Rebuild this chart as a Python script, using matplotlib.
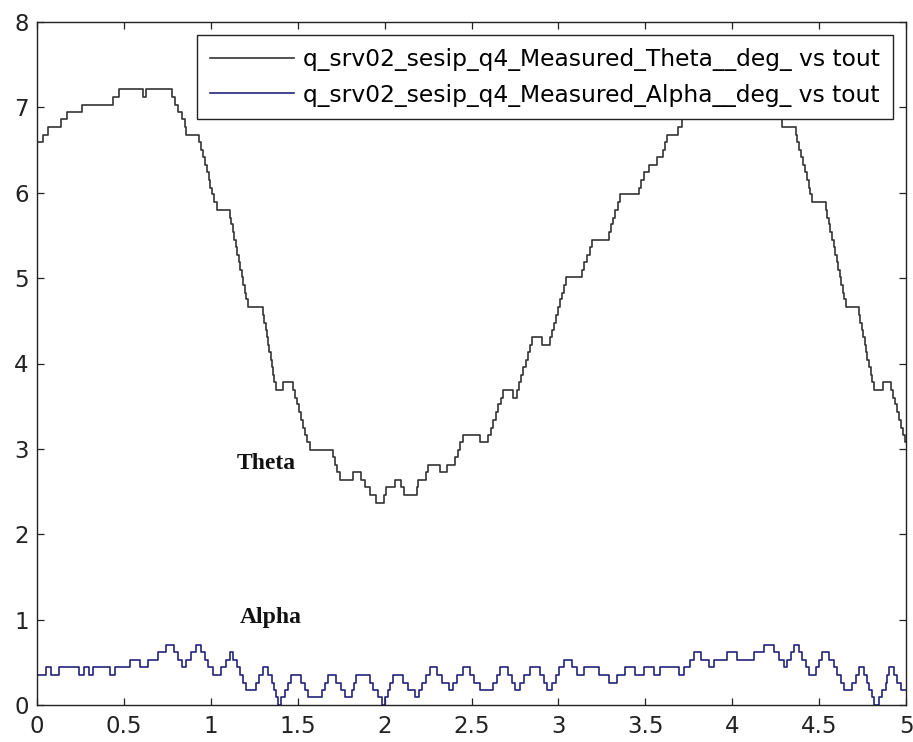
import matplotlib
matplotlib.use("Agg")
import matplotlib.pyplot as plt

# measured pendulum angles (deg), logged as step changes of the encoders
theta_t = [0.000, 0.035, 0.065, 0.140, 0.175, 0.260, 0.440, 0.470, 0.610, 0.630,
           0.776, 0.795, 0.814, 0.833, 0.849, 0.859, 0.932, 0.943, 0.954, 0.965,
           0.976, 0.987, 0.998, 1.009, 1.020, 1.035, 1.108, 1.117, 1.126, 1.134,
           1.143, 1.152, 1.160, 1.169, 1.178, 1.186, 1.195, 1.204, 1.212, 1.300,
           1.307, 1.315, 1.322, 1.330, 1.337, 1.344, 1.352, 1.359, 1.366, 1.378,
           1.416, 1.473, 1.485, 1.497, 1.509, 1.520, 1.532, 1.544, 1.556, 1.570,
           1.704, 1.716, 1.728, 1.745, 1.819, 1.867, 1.890, 1.915, 1.950, 1.996,
           2.010, 2.060, 2.095, 2.110, 2.185, 2.195, 2.237, 2.252, 2.320, 2.357,
           2.405, 2.420, 2.435, 2.450, 2.550, 2.595, 2.610, 2.625, 2.640, 2.655,
           2.670, 2.684, 2.740, 2.760, 2.773, 2.786, 2.799, 2.812, 2.825, 2.836,
           2.847, 2.905, 2.950, 2.962, 2.974, 2.986, 2.998, 3.010, 3.022, 3.034,
           3.045, 3.135, 3.150, 3.165, 3.180, 3.195, 3.289, 3.302, 3.315, 3.328,
           3.342, 3.356, 3.462, 3.475, 3.490, 3.519, 3.567, 3.600, 3.612, 3.625,
           3.690, 3.712, 3.735, 3.765, 3.800, 3.860, 4.050, 4.080, 4.215, 4.240,
           4.260, 4.275, 4.287, 4.365, 4.375, 4.386, 4.397, 4.408, 4.418, 4.429,
           4.440, 4.450, 4.461, 4.538, 4.547, 4.556, 4.565, 4.574, 4.583, 4.592,
           4.601, 4.610, 4.619, 4.628, 4.637, 4.646, 4.655, 4.730, 4.738, 4.746,
           4.754, 4.762, 4.770, 4.778, 4.786, 4.796, 4.806, 4.816, 4.865, 4.913,
           4.925, 4.937, 4.948, 4.960, 4.972, 4.984, 4.995, 5.000]
theta_v = [6.59, 6.68, 6.77, 6.86, 6.94, 7.03, 7.12, 7.21, 7.12, 7.21,
           7.12, 7.03, 6.94, 6.86, 6.77, 6.68, 6.59, 6.50, 6.42, 6.33,
           6.24, 6.15, 6.06, 5.98, 5.89, 5.80, 5.71, 5.63, 5.54, 5.45,
           5.36, 5.27, 5.19, 5.10, 5.01, 4.92, 4.83, 4.75, 4.66, 4.57,
           4.48, 4.39, 4.31, 4.22, 4.13, 4.04, 3.96, 3.87, 3.78, 3.69,
           3.78, 3.69, 3.60, 3.52, 3.43, 3.34, 3.25, 3.16, 3.08, 2.99,
           2.90, 2.81, 2.73, 2.64, 2.73, 2.64, 2.55, 2.46, 2.37, 2.46,
           2.55, 2.64, 2.55, 2.46, 2.55, 2.64, 2.73, 2.81, 2.73, 2.81,
           2.90, 2.99, 3.08, 3.16, 3.08, 3.16, 3.25, 3.34, 3.43, 3.52,
           3.60, 3.69, 3.60, 3.69, 3.78, 3.87, 3.96, 4.04, 4.13, 4.22,
           4.31, 4.22, 4.31, 4.39, 4.48, 4.57, 4.66, 4.75, 4.83, 4.92,
           5.01, 5.10, 5.19, 5.27, 5.36, 5.45, 5.54, 5.63, 5.71, 5.80,
           5.89, 5.98, 6.06, 6.15, 6.24, 6.33, 6.42, 6.50, 6.59, 6.68,
           6.77, 6.86, 6.94, 7.03, 7.12, 7.21, 7.12, 7.21, 7.12, 7.03,
           6.94, 6.86, 6.77, 6.68, 6.59, 6.50, 6.42, 6.33, 6.24, 6.15,
           6.06, 5.98, 5.89, 5.80, 5.71, 5.63, 5.54, 5.45, 5.36, 5.27,
           5.19, 5.10, 5.01, 4.92, 4.83, 4.75, 4.66, 4.57, 4.48, 4.39,
           4.31, 4.22, 4.13, 4.04, 3.96, 3.87, 3.78, 3.69, 3.78, 3.69,
           3.60, 3.52, 3.43, 3.34, 3.25, 3.16, 3.08, 3.08]

alpha_t = [0.000, 0.050, 0.082, 0.128, 0.244, 0.270, 0.300, 0.325, 0.420, 0.450,
           0.535, 0.590, 0.636, 0.694, 0.743, 0.791, 0.810, 0.835, 0.860, 0.885,
           0.916, 0.945, 0.965, 0.985, 1.010, 1.060, 1.085, 1.108, 1.127, 1.150,
           1.168, 1.185, 1.200, 1.260, 1.280, 1.300, 1.330, 1.350, 1.365, 1.378,
           1.387, 1.406, 1.425, 1.445, 1.464, 1.520, 1.540, 1.560, 1.637, 1.655,
           1.675, 1.723, 1.750, 1.775, 1.810, 1.825, 1.838, 1.915, 1.935, 1.960,
           1.983, 2.000, 2.020, 2.032, 2.050, 2.107, 2.135, 2.175, 2.200, 2.215,
           2.240, 2.261, 2.300, 2.330, 2.370, 2.395, 2.415, 2.453, 2.492, 2.515,
           2.550, 2.626, 2.645, 2.664, 2.712, 2.735, 2.750, 2.780, 2.800, 2.837,
           2.895, 2.920, 2.934, 2.963, 2.985, 3.005, 3.030, 3.078, 3.105, 3.145,
           3.232, 3.289, 3.337, 3.385, 3.443, 3.491, 3.548, 3.587, 3.693, 3.722,
           3.760, 3.779, 3.818, 3.866, 3.895, 3.971, 4.029, 4.125, 4.183, 4.240,
           4.269, 4.298, 4.317, 4.336, 4.356, 4.385, 4.404, 4.423, 4.442, 4.480,
           4.500, 4.519, 4.557, 4.586, 4.605, 4.624, 4.643, 4.691, 4.711, 4.730,
           4.759, 4.778, 4.788, 4.807, 4.816, 4.845, 4.864, 4.884, 4.893, 4.903,
           4.932, 4.951, 4.970, 5.000]
alpha_v = [0.35, 0.44, 0.35, 0.44, 0.35, 0.44, 0.35, 0.44, 0.35, 0.44,
           0.53, 0.44, 0.53, 0.62, 0.70, 0.62, 0.53, 0.44, 0.53, 0.62,
           0.70, 0.62, 0.53, 0.44, 0.35, 0.44, 0.53, 0.62, 0.53, 0.44,
           0.35, 0.26, 0.18, 0.26, 0.35, 0.44, 0.35, 0.26, 0.18, 0.09,
           0.00, 0.09, 0.18, 0.26, 0.35, 0.26, 0.18, 0.09, 0.18, 0.26,
           0.35, 0.26, 0.18, 0.09, 0.18, 0.26, 0.35, 0.26, 0.18, 0.09,
           0.00, 0.09, 0.18, 0.26, 0.35, 0.26, 0.18, 0.09, 0.18, 0.26,
           0.35, 0.44, 0.35, 0.26, 0.18, 0.26, 0.35, 0.44, 0.35, 0.26,
           0.18, 0.26, 0.35, 0.44, 0.35, 0.26, 0.18, 0.26, 0.35, 0.44,
           0.35, 0.26, 0.18, 0.26, 0.35, 0.44, 0.53, 0.44, 0.35, 0.44,
           0.35, 0.26, 0.35, 0.44, 0.35, 0.44, 0.35, 0.44, 0.35, 0.44,
           0.53, 0.62, 0.53, 0.44, 0.53, 0.62, 0.53, 0.62, 0.70, 0.62,
           0.53, 0.44, 0.53, 0.62, 0.70, 0.62, 0.53, 0.44, 0.35, 0.44,
           0.53, 0.62, 0.53, 0.44, 0.35, 0.26, 0.18, 0.26, 0.35, 0.44,
           0.35, 0.26, 0.18, 0.09, 0.00, 0.09, 0.18, 0.26, 0.35, 0.44,
           0.35, 0.26, 0.18, 0.18]

labels = ["q_srv02_sesip_q4_Measured_Theta__deg_ vs tout",
          "q_srv02_sesip_q4_Measured_Alpha__deg_ vs tout"]
xticks = [0, 0.5, 1, 1.5, 2, 2.5, 3, 3.5, 4, 4.5, 5]
xticklabels = ["0", "0.5", "1", "1.5", "2", "2.5", "3", "3.5", "4", "4.5", "5"]
yticks = [0, 1, 2, 3, 4, 5, 6, 7, 8]

fig = plt.figure(figsize=(9.13, 7.42), dpi=100)
ax = fig.add_axes([37/913, 37/742, 869/913, 683/742])

ax.step(theta_t, theta_v, where="post", color="#333333", lw=1.2, label=labels[0])
ax.step(alpha_t, alpha_v, where="post", color="#24247a", lw=1.2, label=labels[1])

ax.set_xlim(0, 5)
ax.set_ylim(0, 8)
ax.set_xticks(xticks)
ax.set_xticklabels(xticklabels)
ax.set_yticks(yticks)
ax.tick_params(direction="in", top=True, right=True, length=5, width=0.9,
               labelsize=16.5, colors="#222222")
ax.tick_params(axis="x", pad=7)
ax.tick_params(axis="y", pad=6)
for s in ax.spines.values():
    s.set_linewidth(1.0)
    s.set_color("#222222")

# curve labels
ax.text(1.32, 2.83, "Theta", family="Liberation Serif", weight="bold",
        fontsize=17, ha="center", va="center", color="#111111")
ax.text(1.345, 1.03, "Alpha", family="Liberation Serif", weight="bold",
        fontsize=17, ha="center", va="center", color="#111111")

leg = ax.legend(loc="upper right", fontsize=16.8, frameon=True, fancybox=False,
                edgecolor="#222222", framealpha=1.0, borderaxespad=0.55,
                handlelength=3.6, handletextpad=0.42, borderpad=0.55,
                labelspacing=0.55)
leg.get_frame().set_linewidth(1.0)

fig.savefig("out.png", dpi=100)
